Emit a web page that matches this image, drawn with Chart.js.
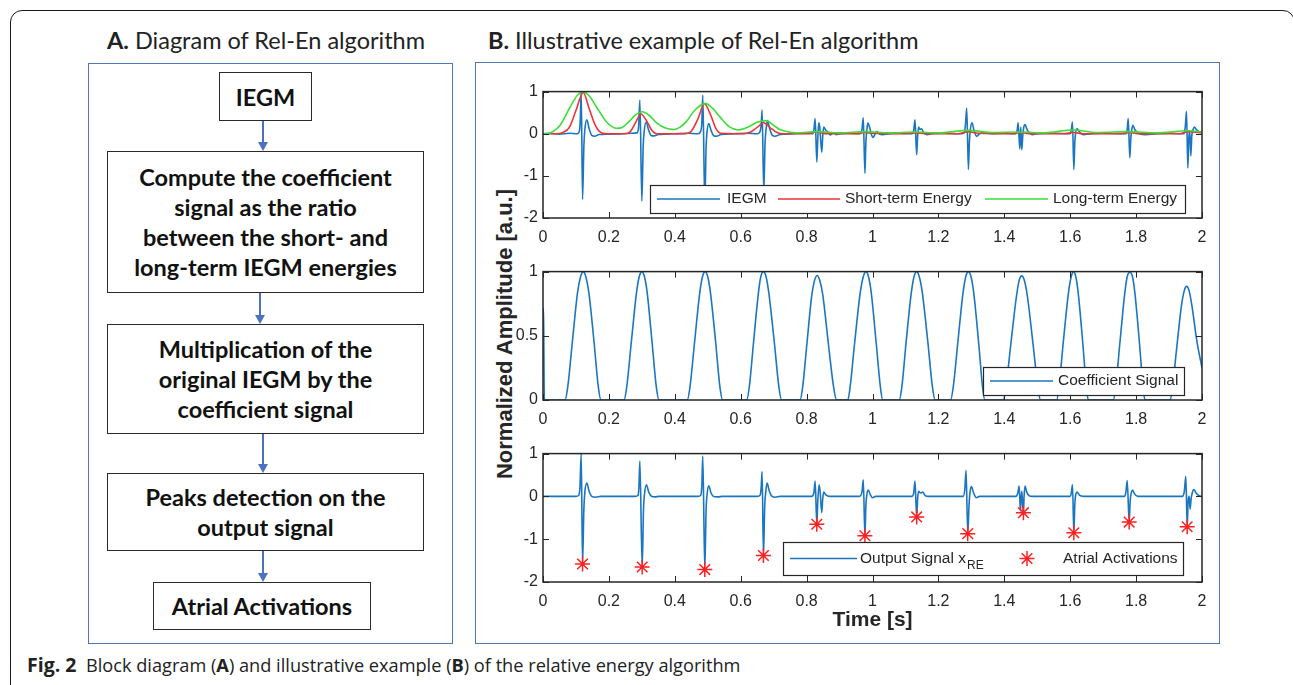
<!DOCTYPE html>
<html><head><meta charset="utf-8">
<script src="https://cdn.jsdelivr.net/npm/chart.js@4.4.1/dist/chart.umd.min.js"></script>
<style>
body{margin:0;width:1293px;height:685px;position:relative;overflow:hidden;background:#fff;font-family:'Lato',sans-serif;}
.abs{position:absolute;}
.card{left:10px;top:10px;width:1285px;height:700px;border:1.3px solid #1a1a1a;border-radius:12px;box-sizing:border-box;}
.ptitle{font-size:23.5px;color:#222;white-space:nowrap;line-height:28px;}
.bluebox{border:1.6px solid #4f74b8;box-sizing:border-box;}
.fbox{border:1.6px solid #2a2a2a;box-sizing:border-box;display:flex;flex-direction:column;justify-content:center;align-items:center;font-weight:700;font-size:23.5px;line-height:30px;color:#111;text-align:center;white-space:nowrap;}
.cap{font-family:'Open Sans',sans-serif;font-size:18.2px;color:#222;white-space:nowrap;line-height:22px;}
.cap .fig{font-size:19.5px;font-weight:700;}
.ylab{font-family:'Liberation Sans',Arial,sans-serif;font-weight:700;font-size:22px;color:#262626;white-space:nowrap;transform:translate(-50%,-50%) rotate(-90deg);}
canvas{position:absolute;}
</style>
</head>
<body>
<div class="abs card"></div>
<div class="abs ptitle" style="left:107px;top:26px;"><b>A.</b> Diagram of Rel-En algorithm</div>
<div class="abs ptitle" style="left:488px;top:26px;"><b>B.</b> Illustrative example of Rel-En algorithm</div>
<div class="abs bluebox" style="left:88px;top:63px;width:365px;height:581px;"></div>
<div class="abs bluebox" style="left:475px;top:62px;width:745px;height:582px;"></div>

<div class="abs fbox" style="left:219px;top:72px;width:93px;height:49px;">IEGM</div>
<div class="abs fbox" style="left:107px;top:151px;width:317px;height:142px;"><div>Compute the coefficient</div><div>signal as the ratio</div><div>between the short- and</div><div>long-term IEGM energies</div></div>
<div class="abs fbox" style="left:107px;top:324px;width:317px;height:110px;"><div>Multiplication of the</div><div>original IEGM by the</div><div>coefficient signal</div></div>
<div class="abs fbox" style="left:107px;top:473px;width:317px;height:78px;"><div>Peaks detection on the</div><div>output signal</div></div>
<div class="abs fbox" style="left:153px;top:582px;width:218px;height:48px;">Atrial Activations</div>
<div id="arrows"></div>

<div class="abs cap" style="left:27px;top:654px;"><span class="fig">Fig. 2</span>&nbsp; Block diagram (<b>A</b>) and illustrative example (<b>B</b>) of the relative energy algorithm</div>

<div class="abs ylab" style="left:505px;top:334px;">Normalized Amplitude [a.u.]</div>

<canvas id="c1" width="730" height="170" style="left:490px;top:77px;"></canvas>
<canvas id="c2" width="730" height="172" style="left:490px;top:257px;"></canvas>
<canvas id="c3" width="730" height="198" style="left:490px;top:439px;"></canvas>

<script>
// ---------------- DATA ----------------
const xTicks = [0, 0.2, 0.4, 0.6, 0.8, 1, 1.2, 1.4, 1.6, 1.8, 2];
const xTickLabels = ['0', '0.2', '0.4', '0.6', '0.8', '1', '1.2', '1.4', '1.6', '1.8', '2'];
const yTicksTop = [-2, -1, 0, 1];
const yLabelsTop = ['-2', '-1', '0', '1'];
const yTicksMid = [0, 0.5, 1];
const yLabelsMid = ['0', '0.5', '1'];
const yTicksBot = [-2, -1, 0, 1];
const yLabelsBot = ['-2', '-1', '0', '1'];

const seriesNames = ['IEGM', 'Short-term Energy', 'Long-term Energy', 'Coefficient Signal', 'Output Signal x', 'Atrial Activations'];

// [time (s), amplitude]
const iegm = [
  [0,0],[0.02,0.01],[0.05,-0.01],[0.08,0.01],[0.104,0],
  [0.110,0.05],[0.113,0.3],[0.116,1.0],[0.120,-1.56],[0.124,-0.3],[0.127,0.1],[0.133,0.33],[0.140,0.12],[0.148,-0.04],[0.157,-0.06],[0.170,-0.02],[0.20,-0.01],[0.24,0.0],[0.27,0.01],
  [0.285,0.02],[0.290,0.15],[0.294,0.80],[0.300,-1.60],[0.304,-0.3],[0.307,0.05],[0.313,0.28],[0.320,0.10],[0.328,-0.04],[0.336,-0.05],[0.35,-0.02],[0.40,0.0],[0.44,0.01],[0.47,0.0],
  [0.478,0.05],[0.482,0.25],[0.485,0.92],[0.491,-1.68],[0.495,-0.3],[0.498,0.05],[0.503,0.24],[0.510,0.08],[0.518,-0.05],[0.526,-0.06],[0.54,-0.02],[0.58,0.0],[0.62,0.01],[0.65,0.0],
  [0.658,0.04],[0.662,0.2],[0.665,0.56],[0.670,-1.37],[0.674,-0.2],[0.677,0.1],[0.681,0.31],[0.688,0.12],[0.696,-0.04],[0.704,-0.06],[0.72,-0.02],[0.76,0.0],[0.80,0.01],[0.818,0.0],
  [0.822,0.08],[0.826,0.36],[0.831,-0.67],[0.834,-0.1],[0.837,0.26],[0.840,0.15],[0.846,-0.44],[0.849,-0.05],[0.852,0.16],[0.858,0.08],[0.865,0.04],[0.872,-0.03],[0.88,0.02],[0.89,-0.02],[0.90,0.0],[0.93,0.01],[0.963,0.0],
  [0.968,0.1],[0.972,0.38],[0.977,-0.94],[0.980,-0.2],[0.983,0.1],[0.986,0.26],[0.991,0.16],[0.996,0.0],[1.001,-0.09],[1.007,-0.02],[1.013,0.05],[1.02,0.0],[1.03,-0.02],[1.05,0.0],[1.08,0.01],[1.12,0.0],
  [1.125,0.08],[1.129,0.33],[1.134,-0.50],[1.137,-0.05],[1.140,0.16],[1.144,0.10],[1.149,0.12],[1.155,0.03],[1.165,-0.02],[1.18,0.0],[1.22,0.01],[1.26,0.0],[1.278,0.02],
  [1.282,0.2],[1.286,0.61],[1.291,-0.85],[1.294,-0.2],[1.297,0.1],[1.302,0.26],[1.308,0.08],[1.316,-0.06],[1.325,0.0],[1.335,0.02],[1.36,0.0],[1.40,0.01],[1.435,0.0],
  [1.439,0.08],[1.442,0.26],[1.447,-0.36],[1.450,0.16],[1.453,-0.38],[1.456,-0.05],[1.459,0.15],[1.463,0.22],[1.468,0.12],[1.474,0.04],[1.485,-0.02],[1.50,0.0],[1.55,0.01],[1.60,0.0],
  [1.603,0.08],[1.607,0.28],[1.611,-0.85],[1.614,-0.2],[1.617,0.05],[1.621,0.12],[1.628,0.04],[1.64,-0.02],[1.66,0.0],[1.70,0.01],[1.77,0.0],
  [1.773,0.1],[1.776,0.36],[1.781,-0.57],[1.784,-0.1],[1.787,0.1],[1.790,0.2],[1.796,0.1],[1.803,0.04],[1.81,0.0],[1.83,-0.02],[1.86,0.0],[1.90,0.01],[1.945,0.0],
  [1.949,0.15],[1.953,0.53],[1.957,-0.81],[1.960,-0.1],[1.963,0.05],[1.966,-0.53],[1.969,-0.05],[1.973,0.1],[1.977,0.16],[1.983,0.1],[1.99,0.05],[2.0,0.03]
];

const shortEnergy = [
  [0,0],[0.04,0],[0.06,0.03],[0.08,0.15],[0.10,0.55],[0.122,0.98],[0.14,0.6],[0.16,0.18],[0.178,0.02],[0.20,0],
  [0.25,0],[0.265,0.05],[0.28,0.25],[0.297,0.47],[0.315,0.3],[0.33,0.08],[0.345,0],
  [0.43,0],[0.45,0.06],[0.47,0.35],[0.49,0.71],[0.51,0.42],[0.525,0.12],[0.54,0.01],
  [0.61,0],[0.63,0.04],[0.65,0.15],[0.669,0.26],[0.69,0.14],[0.71,0.03],[0.73,0],
  [0.80,0],[0.83,0.04],[0.86,0],[0.95,0],[0.975,0.03],[1.0,0.01],[1.1,0],[1.13,0.02],[1.16,0],
  [1.26,0],[1.29,0.05],[1.32,0.01],[1.42,0],[1.45,0.03],[1.48,0],[1.58,0],[1.61,0.03],[1.64,0],
  [1.75,0],[1.78,0.03],[1.81,0],[1.93,0],[1.96,0.05],[2.0,0.02]
];

const longEnergy = [
  [0,0],[0.01,0],[0.03,0.05],[0.052,0.2],[0.082,0.63],[0.105,0.92],[0.122,1.0],[0.14,0.9],[0.163,0.63],[0.193,0.28],[0.224,0.13],
  [0.24,0.15],[0.26,0.28],[0.28,0.44],[0.301,0.52],[0.32,0.45],[0.345,0.26],[0.37,0.14],[0.396,0.10],
  [0.415,0.15],[0.436,0.3],[0.46,0.55],[0.492,0.72],[0.515,0.6],[0.537,0.4],[0.565,0.17],[0.593,0.09],
  [0.61,0.12],[0.628,0.18],[0.65,0.27],[0.677,0.31],[0.70,0.2],[0.719,0.1],[0.745,0.04],[0.77,0.02],
  [0.83,0.05],[0.9,0.02],[0.98,0.05],[1.05,0.02],[1.13,0.04],[1.2,0.02],[1.29,0.08],[1.36,0.03],
  [1.45,0.04],[1.52,0.02],[1.61,0.09],[1.68,0.03],[1.78,0.05],[1.86,0.02],[1.96,0.07],[2.0,0.04]
];

const coefficient = [
  [0,0.72],[0.002,0.6],[0.004,0],[0.067,0],
  [0.075,0.1],[0.089,0.45],[0.105,0.84],[0.114,0.96],[0.122,1],[0.130,0.96],[0.139,0.84],[0.155,0.45],[0.168,0.1],[0.176,0],
  [0.246,0],[0.254,0.1],[0.268,0.45],[0.284,0.84],[0.292,0.96],[0.300,1],[0.308,0.96],[0.316,0.84],[0.331,0.45],[0.344,0.1],[0.352,0],
  [0.438,0],[0.446,0.1],[0.460,0.45],[0.476,0.84],[0.484,0.96],[0.492,1],[0.500,0.96],[0.508,0.84],[0.524,0.45],[0.537,0.1],[0.545,0],
  [0.618,0],[0.626,0.1],[0.639,0.45],[0.654,0.84],[0.661,0.96],[0.669,1],[0.677,0.96],[0.685,0.84],[0.702,0.45],[0.716,0.1],[0.724,0],
  [0.780,0],[0.788,0.1],[0.801,0.44],[0.816,0.82],[0.824,0.93],[0.832,0.97],[0.840,0.93],[0.849,0.82],[0.866,0.44],[0.882,0.1],[0.891,0],
  [0.925,0],[0.932,0.1],[0.946,0.45],[0.963,0.84],[0.972,0.96],[0.980,1],[0.988,0.96],[0.996,0.84],[1.011,0.45],[1.024,0.1],[1.031,0],
  [1.081,0],[1.089,0.1],[1.102,0.45],[1.118,0.84],[1.126,0.96],[1.134,1],[1.142,0.96],[1.151,0.84],[1.168,0.45],[1.182,0.1],[1.19,0],
  [1.237,0],[1.245,0.1],[1.259,0.45],[1.275,0.84],[1.283,0.96],[1.291,1],[1.299,0.96],[1.307,0.84],[1.322,0.45],[1.334,0.1],[1.341,0],
  [1.397,0],[1.405,0.1],[1.420,0.44],[1.437,0.81],[1.445,0.93],[1.453,0.967],[1.461,0.93],[1.470,0.81],[1.487,0.44],[1.502,0.1],[1.51,0],
  [1.559,0],[1.566,0.1],[1.579,0.45],[1.595,0.84],[1.603,0.96],[1.61,1],[1.617,0.96],[1.624,0.84],[1.638,0.45],[1.649,0.1],[1.655,0],
  [1.731,0],[1.738,0.1],[1.751,0.45],[1.766,0.84],[1.773,0.96],[1.781,0.995],[1.789,0.96],[1.796,0.84],[1.81,0.45],[1.821,0.1],[1.827,0],
  [1.903,0],[1.910,0.09],[1.923,0.4],[1.938,0.74],[1.946,0.85],[1.953,0.885],[1.961,0.85],[1.969,0.74],[1.985,0.45],[2.0,0.25]
];

const outputSignal = [
  [0,0],[0.10,0],
  [0.108,0.02],[0.112,0.2],[0.116,1.0],[0.120,-1.58],[0.124,-0.3],[0.127,0.1],[0.133,0.31],[0.140,0.12],[0.148,0.0],[0.16,-0.02],[0.175,0],[0.28,0],
  [0.288,0.02],[0.291,0.2],[0.294,0.83],[0.301,-1.65],[0.305,-0.3],[0.308,0.05],[0.314,0.27],[0.321,0.1],[0.33,0],[0.34,-0.01],[0.352,0],[0.47,0],
  [0.479,0.03],[0.482,0.25],[0.485,0.94],[0.491,-1.71],[0.495,-0.3],[0.498,0.05],[0.503,0.25],[0.510,0.08],[0.518,0],[0.53,-0.01],[0.545,0],[0.65,0],
  [0.659,0.03],[0.662,0.2],[0.665,0.58],[0.669,-1.38],[0.673,-0.2],[0.676,0.1],[0.680,0.31],[0.687,0.12],[0.695,0.0],[0.705,-0.02],[0.72,0],[0.815,0],
  [0.822,0.08],[0.826,0.36],[0.831,-0.65],[0.834,-0.1],[0.838,0.27],[0.841,0.12],[0.846,-0.38],[0.849,-0.05],[0.852,0.1],[0.858,0.04],[0.87,0.0],[0.96,0],
  [0.968,0.1],[0.972,0.39],[0.977,-0.92],[0.980,-0.2],[0.983,0.05],[0.987,0.15],[0.993,0.05],[1.0,-0.03],[1.01,0],[1.12,0],
  [1.125,0.08],[1.129,0.36],[1.134,-0.48],[1.137,-0.05],[1.140,0.12],[1.146,0.08],[1.152,0.1],[1.16,0.02],[1.17,0],[1.275,0],
  [1.280,0.15],[1.284,0.61],[1.289,-0.87],[1.293,-0.2],[1.296,0.1],[1.300,0.23],[1.307,0.08],[1.315,-0.03],[1.325,0],[1.435,0],
  [1.441,0.08],[1.445,0.24],[1.449,-0.34],[1.451,-0.05],[1.453,0.12],[1.455,-0.1],[1.458,-0.38],[1.460,0.0],[1.463,0.24],[1.468,0.1],[1.475,0.02],[1.485,0],[1.60,0],
  [1.603,0.06],[1.607,0.27],[1.611,-0.85],[1.614,-0.2],[1.617,0.05],[1.621,0.1],[1.628,0.03],[1.64,0],[1.765,0],
  [1.769,0.1],[1.773,0.37],[1.779,-0.6],[1.782,-0.1],[1.786,0.1],[1.789,0.15],[1.795,0.06],[1.805,0],[1.94,0],
  [1.946,0.1],[1.951,0.47],[1.955,-0.71],[1.958,-0.1],[1.961,0.0],[1.964,-0.3],[1.967,-0.05],[1.971,0.1],[1.975,0.16],[1.982,0.08],[1.99,0.02],[2.0,0.0]
];

const activationTimes = [0.120, 0.301, 0.491, 0.669, 0.831, 0.977, 1.134, 1.289, 1.458, 1.611, 1.779, 1.955];
const activationValues = [-1.58, -1.65, -1.71, -1.38, -0.65, -0.92, -0.48, -0.87, -0.38, -0.85, -0.60, -0.71];

// ---------------- STYLE ----------------
const BLUE = '#1a76c0', RED = '#ee3333', GREEN = '#3ade3a', AX = '#262626';
const TICKFONT = {family: 'Liberation Sans', size: 16};

// ---------------- Panel A arrows ----------------
function arrow(x, y1, y2) {
  const c = '#4a72c0';
  const host = document.getElementById('arrows');
  const l = document.createElement('div');
  l.className = 'abs';
  l.style.cssText = `left:${x - 0.8}px;top:${y1}px;width:1.6px;height:${y2 - y1 - 8}px;background:${c};`;
  const h = document.createElement('div');
  h.className = 'abs';
  h.style.cssText = `left:${x - 5}px;top:${y2 - 9}px;width:0;height:0;border-left:5px solid transparent;border-right:5px solid transparent;border-top:9px solid ${c};`;
  host.appendChild(l); host.appendChild(h);
}
arrow(263, 121, 151);
arrow(260, 293, 324);
arrow(263, 434, 473);
arrow(263, 551, 582);

// ---------------- Chart helpers ----------------
const toXY = arr => arr.map(p => ({x: p[0], y: p[1]}));

function drawStar(ctx, x, y, r, color, w) {
  ctx.save();
  ctx.strokeStyle = color; ctx.lineWidth = w;
  ctx.beginPath();
  for (let k = 0; k < 4; k++) {
    const a = k * Math.PI / 4;
    ctx.moveTo(x - r * Math.cos(a), y - r * Math.sin(a));
    ctx.lineTo(x + r * Math.cos(a), y + r * Math.sin(a));
  }
  ctx.stroke();
  ctx.restore();
}

const matlabBox = {
  id: 'matlabBox',
  afterDatasetsDraw(chart, args, opts) {
    const {ctx, chartArea: a, scales} = chart;
    const xs = scales.x, ys = scales.y;
    ctx.save();
    ctx.strokeStyle = AX; ctx.lineWidth = 1;
    const tl = 6;
    ctx.beginPath();
    xs.ticks.forEach(t => {
      const px = Math.round(xs.getPixelForValue(t.value)) + 0.5;
      ctx.moveTo(px, a.bottom); ctx.lineTo(px, a.bottom - tl);
      ctx.moveTo(px, a.top); ctx.lineTo(px, a.top + tl);
    });
    ys.ticks.forEach(t => {
      const py = Math.round(ys.getPixelForValue(t.value)) + 0.5;
      ctx.moveTo(a.left, py); ctx.lineTo(a.left + tl, py);
      ctx.moveTo(a.right, py); ctx.lineTo(a.right - tl, py);
    });
    ctx.stroke();
    ctx.lineWidth = 1.5;
    ctx.strokeRect(a.left, a.top, a.right - a.left, a.bottom - a.top);
    const lg = opts.legend;
    if (lg) {
      const L = Math.round(a.left + lg.left), T = Math.round(a.top + lg.top);
      ctx.fillStyle = '#fff';
      ctx.fillRect(L, T, lg.width, lg.height);
      ctx.lineWidth = 1.2; ctx.strokeStyle = AX;
      ctx.strokeRect(L + 0.5, T + 0.5, lg.width, lg.height);
      const cy = T + lg.height / 2;
      lg.items.forEach(it => {
        if (it.kind === 'line') {
          ctx.strokeStyle = it.color; ctx.lineWidth = 1.6;
          ctx.beginPath(); ctx.moveTo(L + it.x1, cy); ctx.lineTo(L + it.x2, cy); ctx.stroke();
        } else if (it.kind === 'star') {
          drawStar(ctx, L + it.sx, cy, 7.5, it.color, 1.5);
        }
        ctx.fillStyle = AX;
        ctx.font = '15.5px "Liberation Sans"';
        ctx.textBaseline = 'middle'; ctx.textAlign = 'left';
        ctx.fillText(it.label, L + it.tx, cy);
        if (it.sub) {
          const w = ctx.measureText(it.label).width;
          ctx.font = '12px "Liberation Sans"';
          ctx.fillText(it.sub, L + it.tx + w + 1, cy + 7);
        }
      });
    }
    ctx.restore();
  }
};

function makeChart(id, datasets, yMin, yMax, yTicks, yLabels, legend, xTitle, xAxisH) {
  return new Chart(document.getElementById(id), {
    type: 'line',
    data: {datasets},
    plugins: [matlabBox],
    options: {
      responsive: false, animation: false, devicePixelRatio: 1,
      layout: {padding: {left: 0, right: 18, top: 12, bottom: 0}},
      plugins: {legend: {display: false}, tooltip: {enabled: false}, matlabBox: {legend}},
      scales: {
        x: {
          type: 'linear', min: 0, max: 2,
          grid: {display: false, drawTicks: false}, border: {display: false},
          afterBuildTicks: s => { s.ticks = xTicks.map(v => ({value: v})); },
          afterFit: s => { s.height = xAxisH; },
          ticks: {padding: 10, color: AX, font: TICKFONT, maxRotation: 0, autoSkip: false,
                  callback: (v, i) => xTickLabels[i]},
          title: xTitle ? {display: true, text: xTitle, color: AX,
                           font: {family: 'Liberation Sans', size: 21, weight: 'bold'},
                           padding: {top: 0, bottom: 4}} : {display: false}
        },
        y: {
          type: 'linear', min: yMin, max: yMax,
          grid: {display: false, drawTicks: false}, border: {display: false},
          afterBuildTicks: s => { s.ticks = yTicks.map(v => ({value: v})); },
          afterFit: s => { s.width = 53; },
          ticks: {padding: 5, color: AX, font: TICKFONT, autoSkip: false,
                  callback: (v, i) => yLabels[i]}
        }
      }
    }
  });
}

const lineDS = (data, color, order) => ({
  data: toXY(data), borderColor: color, backgroundColor: color, borderWidth: 1.6,
  pointRadius: 0, cubicInterpolationMode: 'monotone', fill: false, order
});

makeChart('c1', [
  lineDS(iegm, BLUE, 3),
  lineDS(shortEnergy, RED, 2),
  lineDS(longEnergy, GREEN, 1)
], -2, 1, yTicksTop, yLabelsTop, {
  left: 107, top: 93, width: 535, height: 28,
  items: [
    {kind: 'line', color: BLUE, x1: 7, x2: 70, tx: 77, label: seriesNames[0]},
    {kind: 'line', color: RED, x1: 128, x2: 190, tx: 195, label: seriesNames[1]},
    {kind: 'line', color: GREEN, x1: 335, x2: 398, tx: 403, label: seriesNames[2]}
  ]
}, null, 29);

makeChart('c2', [
  lineDS(coefficient, BLUE, 1)
], 0, 1, yTicksMid, yLabelsMid, {
  left: 440, top: 95, width: 201, height: 28,
  items: [{kind: 'line', color: BLUE, x1: 7, x2: 70, tx: 75, label: seriesNames[3]}]
}, null, 29);

makeChart('c3', [
  lineDS(outputSignal, BLUE, 1),
  {data: activationTimes.map((t, i) => ({x: t, y: activationValues[i]})), showLine: false,
   pointStyle: 'star', pointRadius: 7.5, pointBorderWidth: 1.5, pointBorderColor: '#ff2020',
   borderColor: '#ff2020', backgroundColor: '#ff2020', order: 0}
], -2, 1, yTicksBot, yLabelsBot, {
  left: 240, top: 88, width: 400, height: 33,
  items: [
    {kind: 'line', color: BLUE, x1: 7, x2: 74, tx: 77, label: seriesNames[4], sub: 'RE'},
    {kind: 'star', color: '#ff2020', sx: 244, tx: 280, label: seriesNames[5]}
  ]
}, 'Time [s]', 55);
</script>
</body></html>
